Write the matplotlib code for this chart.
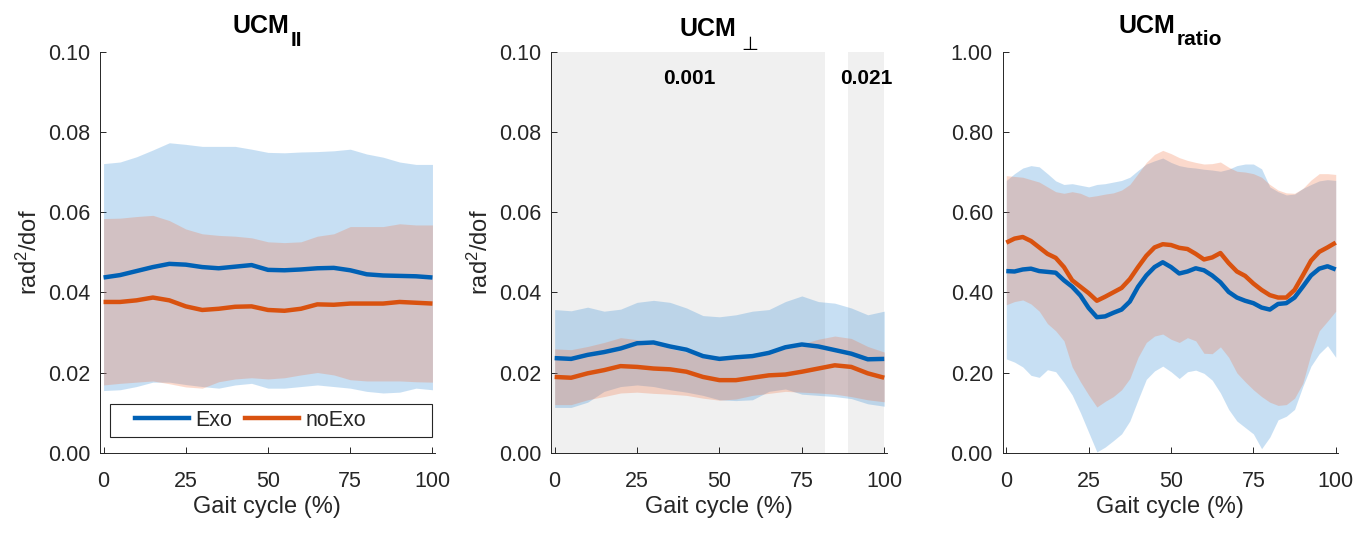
import numpy as np
import matplotlib
matplotlib.use("Agg")
import matplotlib.pyplot as plt
from matplotlib.patches import Rectangle
from matplotlib.lines import Line2D

plt.rcParams['font.family'] = ['Liberation Sans', 'DejaVu Sans']
plt.rcParams['mathtext.fontset'] = 'custom'
plt.rcParams['mathtext.rm'] = 'Liberation Sans'
plt.rcParams['mathtext.bf'] = 'Liberation Sans:bold'
plt.rcParams['mathtext.it'] = 'Liberation Sans:italic'

# gait cycle samples
gait5 = np.arange(0, 101, 5)
gait25 = np.arange(0, 100.1, 2.5)

# UCM parallel (rad^2/dof)
par_exo_mean = [0.0437, 0.0443, 0.0453, 0.0463, 0.0471, 0.0469, 0.0463, 0.0460, 0.0464, 0.0468, 0.0456,
                0.0455, 0.0457, 0.0460, 0.0461, 0.0455, 0.0445, 0.0442, 0.0441, 0.0440, 0.0437]
par_exo_hi = [0.0721, 0.0725, 0.0738, 0.0755, 0.0773, 0.0769, 0.0764, 0.0764, 0.0764, 0.0757, 0.0749,
              0.0748, 0.0750, 0.0751, 0.0753, 0.0757, 0.0745, 0.0737, 0.0725, 0.0719, 0.0719]
par_exo_lo = [0.0155, 0.0157, 0.0165, 0.0176, 0.0176, 0.0170, 0.0165, 0.0161, 0.0169, 0.0173, 0.0161,
              0.0161, 0.0165, 0.0169, 0.0165, 0.0161, 0.0153, 0.0149, 0.0151, 0.0161, 0.0157]
par_noexo_mean = [0.0376, 0.0376, 0.0380, 0.0387, 0.0380, 0.0365, 0.0356, 0.0359, 0.0364, 0.0365, 0.0356,
                  0.0354, 0.0359, 0.0370, 0.0369, 0.0372, 0.0372, 0.0372, 0.0376, 0.0374, 0.0372]
par_noexo_hi = [0.0584, 0.0585, 0.0589, 0.0592, 0.0579, 0.0558, 0.0546, 0.0542, 0.0540, 0.0536, 0.0526,
                0.0524, 0.0526, 0.0540, 0.0546, 0.0564, 0.0564, 0.0564, 0.0571, 0.0568, 0.0568]
par_noexo_lo = [0.0169, 0.0173, 0.0176, 0.0179, 0.0172, 0.0164, 0.0161, 0.0177, 0.0184, 0.0187, 0.0184,
                0.0187, 0.0194, 0.0200, 0.0194, 0.0182, 0.0179, 0.0179, 0.0179, 0.0177, 0.0176]

# UCM perpendicular (rad^2/dof)
perp_exo_mean = [0.0236, 0.0234, 0.0244, 0.0251, 0.0260, 0.0273, 0.0275, 0.0265, 0.0257, 0.0241, 0.0234,
                 0.0238, 0.0241, 0.0249, 0.0263, 0.0270, 0.0265, 0.0256, 0.0247, 0.0233, 0.0234]
perp_exo_hi = [0.0357, 0.0354, 0.0363, 0.0353, 0.0358, 0.0375, 0.0380, 0.0375, 0.0361, 0.0342, 0.0339,
               0.0344, 0.0353, 0.0357, 0.0377, 0.0391, 0.0377, 0.0373, 0.0361, 0.0344, 0.0353]
perp_exo_lo = [0.0113, 0.0113, 0.0126, 0.0153, 0.0165, 0.0169, 0.0165, 0.0157, 0.0151, 0.0143, 0.0132,
               0.0130, 0.0132, 0.0153, 0.0159, 0.0146, 0.0143, 0.0140, 0.0135, 0.0122, 0.0116]
perp_noexo_mean = [0.0189, 0.0187, 0.0198, 0.0206, 0.0216, 0.0214, 0.0210, 0.0208, 0.0202, 0.0189, 0.0181,
                   0.0181, 0.0187, 0.0193, 0.0195, 0.0202, 0.0210, 0.0218, 0.0214, 0.0198, 0.0187]
perp_noexo_hi = [0.0259, 0.0257, 0.0265, 0.0275, 0.0287, 0.0282, 0.0273, 0.0260, 0.0251, 0.0244, 0.0241,
                 0.0241, 0.0244, 0.0251, 0.0260, 0.0271, 0.0283, 0.0291, 0.0285, 0.0265, 0.0251]
perp_noexo_lo = [0.0120, 0.0120, 0.0132, 0.0140, 0.0149, 0.0151, 0.0148, 0.0146, 0.0143, 0.0136, 0.0131,
                 0.0134, 0.0143, 0.0148, 0.0153, 0.0151, 0.0149, 0.0146, 0.0140, 0.0132, 0.0127]
perp_clusters = [(0, 82), (89, 100)]
perp_pvals = ['0.001', '0.021']

# UCM ratio
ratio_exo_mean = [0.453, 0.452, 0.457, 0.459, 0.453, 0.451, 0.449, 0.430, 0.414, 0.392, 0.361, 0.338, 0.340, 0.349,
                  0.357, 0.377, 0.414, 0.442, 0.463, 0.475, 0.463, 0.447, 0.452, 0.460, 0.455, 0.442, 0.425, 0.401,
                  0.387, 0.379, 0.373, 0.362, 0.357, 0.371, 0.373, 0.387, 0.414, 0.442, 0.459, 0.465, 0.457]
ratio_exo_hi = [0.679, 0.696, 0.710, 0.716, 0.713, 0.696, 0.678, 0.669, 0.671, 0.667, 0.663, 0.669, 0.671, 0.675,
                0.679, 0.687, 0.704, 0.720, 0.728, 0.735, 0.724, 0.716, 0.712, 0.710, 0.707, 0.705, 0.702, 0.707,
                0.716, 0.720, 0.720, 0.708, 0.663, 0.651, 0.643, 0.645, 0.659, 0.669, 0.678, 0.681, 0.679]
ratio_exo_lo = [0.234, 0.226, 0.214, 0.193, 0.188, 0.207, 0.202, 0.175, 0.144, 0.100, 0.051, 0.002, 0.014, 0.030,
                0.047, 0.079, 0.132, 0.183, 0.204, 0.216, 0.202, 0.185, 0.202, 0.206, 0.198, 0.181, 0.149, 0.108,
                0.079, 0.063, 0.047, 0.010, 0.039, 0.082, 0.091, 0.108, 0.165, 0.216, 0.247, 0.267, 0.238]
ratio_noexo_mean = [0.524, 0.534, 0.538, 0.528, 0.512, 0.496, 0.486, 0.463, 0.430, 0.414, 0.398, 0.379, 0.389, 0.400,
                    0.411, 0.433, 0.463, 0.491, 0.512, 0.520, 0.518, 0.511, 0.508, 0.496, 0.482, 0.487, 0.498, 0.473,
                    0.452, 0.441, 0.422, 0.406, 0.393, 0.387, 0.387, 0.406, 0.442, 0.479, 0.501, 0.512, 0.524]
ratio_noexo_hi = [0.691, 0.689, 0.687, 0.681, 0.675, 0.663, 0.651, 0.647, 0.651, 0.647, 0.638, 0.641, 0.645, 0.648,
                  0.655, 0.669, 0.696, 0.724, 0.744, 0.754, 0.746, 0.736, 0.729, 0.724, 0.720, 0.721, 0.725, 0.712,
                  0.702, 0.700, 0.696, 0.687, 0.669, 0.655, 0.648, 0.647, 0.659, 0.680, 0.696, 0.696, 0.694]
ratio_noexo_lo = [0.369, 0.377, 0.381, 0.371, 0.353, 0.322, 0.304, 0.279, 0.214, 0.177, 0.144, 0.114, 0.128, 0.140,
                  0.157, 0.185, 0.238, 0.275, 0.291, 0.296, 0.283, 0.275, 0.287, 0.279, 0.248, 0.247, 0.264, 0.238,
                  0.199, 0.177, 0.157, 0.140, 0.126, 0.118, 0.120, 0.136, 0.173, 0.247, 0.304, 0.328, 0.353]

titles = ['UCM', 'UCM', 'UCM']
subscripts = ['II', '\u22a5', 'ratio']

blue = '#0061B5'
orange = '#D9520F'
blue_fill = '#2383D3'
orange_fill = '#F36B37'
axcol = '#262626'
XLIM = (-1.1, 100.75)
W, H = 1369, 534

fig = plt.figure(figsize=(W / 100, H / 100), dpi=100)
positions = [[0.0730, 0.1522, 0.2447, 0.7509],
             [0.4025, 0.1522, 0.2452, 0.7509],
             [0.7324, 0.1522, 0.2451, 0.7509]]

panels = [
    (gait5, par_exo_mean, par_exo_lo, par_exo_hi, par_noexo_mean, par_noexo_lo, par_noexo_hi,
     0.1, 0.02, r'rad$^2$/dof'),
    (gait5, perp_exo_mean, perp_exo_lo, perp_exo_hi, perp_noexo_mean, perp_noexo_lo, perp_noexo_hi,
     0.1, 0.02, r'rad$^2$/dof'),
    (gait25, ratio_exo_mean, ratio_exo_lo, ratio_exo_hi, ratio_noexo_mean, ratio_noexo_lo, ratio_noexo_hi,
     1.0, 0.2, None),
]

axes = []
for pos, (x, em, el, eh, nm, nl, nh, ymax, ystep, ylab) in zip(positions, panels):
    ax = fig.add_axes(pos)
    axes.append(ax)
    ax.fill_between(x, el, eh, color=blue_fill, alpha=0.25, lw=0, zorder=2)
    ax.fill_between(x, nl, nh, color=orange_fill, alpha=0.25, lw=0, zorder=3)
    ax.plot(x, em, color=blue, lw=3.2, zorder=4, solid_capstyle='butt')
    ax.plot(x, nm, color=orange, lw=3.2, zorder=5, solid_capstyle='butt')
    ax.set_xlim(*XLIM)
    ax.set_ylim(0, ymax)
    ax.set_xticks([0, 25, 50, 75, 100])
    ax.set_yticks(np.arange(0, ymax + ystep / 2, ystep))
    ax.yaxis.set_major_formatter(matplotlib.ticker.FormatStrFormatter('%.2f'))
    for s in ['top', 'right']:
        ax.spines[s].set_visible(False)
    for s in ['left', 'bottom']:
        ax.spines[s].set_color(axcol)
        ax.spines[s].set_linewidth(0.7)
    ax.tick_params(direction='in', length=4, width=0.7, color=axcol, labelcolor=axcol,
                   labelsize=15.5, pad=7)
    ax.tick_params(axis='x', pad=13)
    ax.set_xlabel('Gait cycle (%)', fontsize=17, color=axcol, labelpad=3)
    if ylab:
        ax.set_ylabel(ylab, fontsize=17, color=axcol, labelpad=4)

# titles with subscripts, centred over each axes
renderer = fig.canvas.get_renderer()
main_base = [33, 36.5, 33]
sub_base = [46, 50, 45]
for i, ax in enumerate(axes):
    tm = fig.text(0, 0, titles[i], fontsize=18, fontweight='bold', color='black',
                  ha='left', va='baseline')
    if subscripts[i] == '\u22a5':
        ts = fig.text(0, 0, subscripts[i], fontsize=14, color='black', family='DejaVu Sans',
                      ha='left', va='baseline')
        gap = 5
    else:
        ts = fig.text(0, 0, subscripts[i], fontsize=15, fontweight='bold', color='black',
                      ha='left', va='baseline')
        gap = 2
    w1 = tm.get_window_extent(renderer).width
    w2 = ts.get_window_extent(renderer).width
    bb = ax.get_position()
    cx = (bb.x0 + bb.x1) / 2 * W
    x0 = cx - (w1 + gap + w2) / 2
    tm.set_position((x0 / W, 1 - main_base[i] / H))
    ts.set_position(((x0 + w1 + gap) / W, 1 - sub_base[i] / H))

# significance clusters on UCM perpendicular
ax2 = axes[1]
for (s, e), p in zip(perp_clusters, perp_pvals):
    x0 = XLIM[0] if s <= 0 else s
    ax2.axvspan(x0, e, color='#F0F0F0', lw=0, zorder=0)
    ax2.text((s + e) / 2, 0.0934, p, ha='center', va='center', fontsize=15, fontweight='bold',
             color='black', zorder=6)

# legend in first panel
ax1 = axes[0]
ax1.add_patch(Rectangle((0.030, 0.040), 0.960, 0.0815, transform=ax1.transAxes, fill=False,
                        edgecolor=axcol, lw=0.8, zorder=10))
handles = [Line2D([], [], color=blue, lw=3.2), Line2D([], [], color=orange, lw=3.2)]
ax1.legend(handles, ['Exo', 'noExo'], ncol=2, loc='center left', bbox_to_anchor=(0.104, 0.081),
           frameon=False, fontsize=15.5, handlelength=2.5, handletextpad=0.3, columnspacing=0.6,
           borderpad=0, borderaxespad=0, labelcolor=axcol)

fig.savefig('out.png', dpi=100)
